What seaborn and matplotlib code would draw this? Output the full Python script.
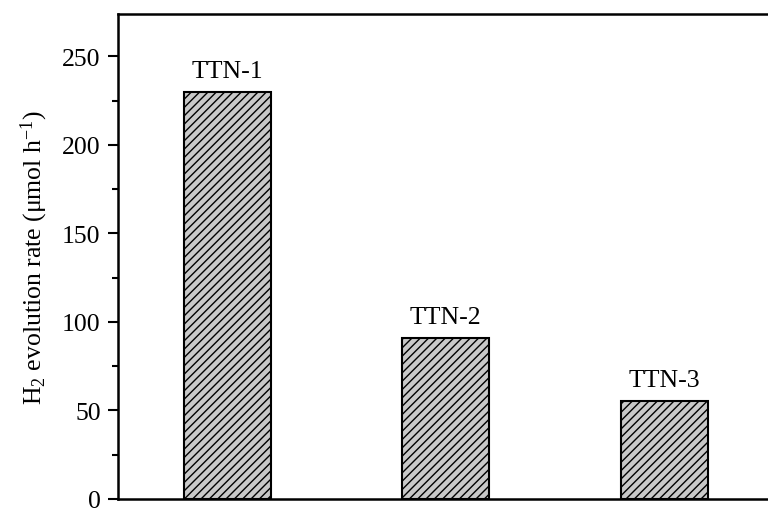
import pandas as pd
import matplotlib
matplotlib.use("Agg")
import matplotlib.pyplot as plt
from matplotlib.ticker import MultipleLocator
import seaborn as sns

# data
samples = ["TTN-1", "TTN-2", "TTN-3"]
rates = [230, 91, 55.5]

sns.set_style("ticks")
plt.rcParams["font.family"] = ["Liberation Serif", "DejaVu Serif"]
plt.rcParams["mathtext.fontset"] = "custom"
plt.rcParams["mathtext.rm"] = "Liberation Serif"
plt.rcParams["mathtext.it"] = "Liberation Serif:italic"
plt.rcParams["hatch.linewidth"] = 1.0
plt.rcParams["hatch.color"] = "black"
plt.rcParams["text.color"] = "black"
plt.rcParams["axes.labelcolor"] = "black"
plt.rcParams["axes.edgecolor"] = "black"
plt.rcParams["ytick.color"] = "black"

df = pd.DataFrame({"sample": samples, "rate": rates})

fig = plt.figure(figsize=(7.68, 5.10), dpi=100)
ax = fig.add_axes([118 / 768, 10 / 510, 655.5 / 768, 485 / 510])

sns.barplot(data=df, x="sample", y="rate", color="#c8c8c8", edgecolor="black",
            linewidth=1.5, width=0.4, saturation=1, ax=ax)
for p in ax.patches:
    p.set_hatch("////")

ax.bar_label(ax.containers[0], labels=samples, padding=7, fontsize=18.5)

ax.set_xlim(-0.5, 2.5)
ax.set_ylim(0, 274)
ax.yaxis.set_major_locator(MultipleLocator(50))
ax.yaxis.set_minor_locator(MultipleLocator(25))
ax.set_xticks([])
ax.set_xlabel("")
ax.set_ylabel("H$_2$ evolution rate (μmol h$^{-1}$)", fontsize=18.5, labelpad=9)
ax.tick_params(axis="y", which="major", length=7.5, width=1.5, labelsize=18.5,
               direction="out", pad=5)
ax.tick_params(axis="y", which="minor", length=4.5, width=1.5, direction="out")
for s in ax.spines.values():
    s.set_linewidth(1.8)
ax.spines["right"].set_visible(False)

fig.savefig("out.png", dpi=100)
